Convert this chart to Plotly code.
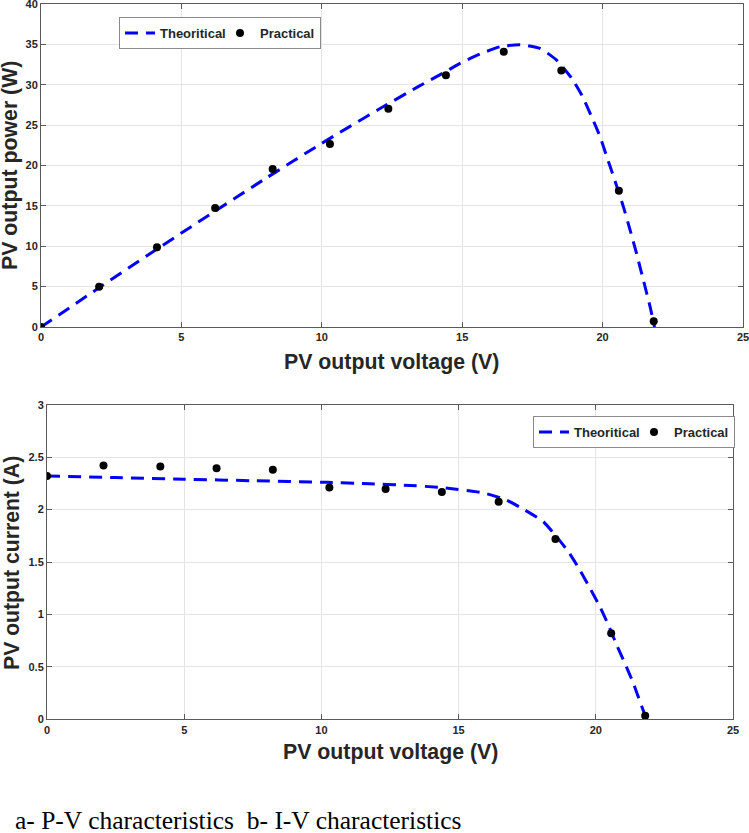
import plotly.graph_objects as go

# ---------- data ----------
# P-V characteristic
pv_theo_v = [0, 2, 4, 6, 8, 10, 12, 13.4, 14.4, 14.92, 15.63, 16.35, 17.06, 17.77, 18.36, 18.9, 19.26,
             19.61, 19.91, 20.15, 20.41, 20.74, 20.98, 21.21, 21.45, 21.69, 21.85]
pv_theo_p = [0, 4.7, 9.35, 13.9, 18.4, 22.75, 26.9, 29.7, 31.6, 32.65, 33.8, 34.71, 34.96, 34.5, 33.06, 30.8, 28.7,
             26.04, 23.57, 21.09, 18.41, 14.9, 12.0, 9.1, 5.82, 2.52, 0]
pv_prac_v = [0, 2.07, 4.13, 6.2, 8.25, 10.29, 12.37, 14.42, 16.48, 18.53, 20.58, 21.82]
pv_prac_p = [0, 4.99, 9.87, 14.74, 19.57, 22.66, 27.04, 31.17, 34.1, 31.78, 16.88, 0.7]

# I-V characteristic
iv_theo_v = [0, 2.5, 5, 7.5, 10.2, 11.77, 13.0, 14.38, 15.9, 16.75, 17.42, 18.09, 18.51, 19.0, 19.42,
             19.79, 20.15, 20.46, 20.76, 21.06, 21.37, 21.61, 21.79, 21.82]
iv_theo_i = [2.32, 2.305, 2.29, 2.275, 2.26, 2.245, 2.233, 2.21, 2.16, 2.09, 1.995, 1.884, 1.76, 1.598, 1.423,
             1.249, 1.073, 0.899, 0.708, 0.534, 0.343, 0.168, 0.04, 0]
iv_prac_v = [0, 2.06, 4.13, 6.18, 8.23, 10.29, 12.34, 14.39, 16.46, 18.53, 20.56, 21.8]
iv_prac_i = [2.32, 2.42, 2.41, 2.395, 2.38, 2.21, 2.195, 2.167, 2.075, 1.72, 0.82, 0.035]

x_ticks = [0, 5, 10, 15, 20, 25]
p_ticks = [0, 5, 10, 15, 20, 25, 30, 35, 40]
i_ticks = [0, 0.5, 1, 1.5, 2, 2.5, 3]
i_tick_labels = ["0", "0.5", "1", "1.5", "2", "2.5", "3"]

x_title = "PV output voltage (V)"
p_title = "PV output power (W)"
i_title = "PV output current (A)"
caption = "a- P-V characteristics  b- I-V characteristics"

# ---------- figure ----------
W, H = 749, 833
BLUE = "#0000FF"
AXC = "#5a5a5a"
GRID = "#e4e4e4"
TXT = "#262626"
FONT = "Liberation Sans"

line_style = dict(color=BLUE, width=3, dash="13px,8px")
marker_style = dict(color="black", size=8, symbol="circle")

fig = go.Figure()
fig.add_trace(go.Scatter(x=pv_theo_v, y=pv_theo_p, mode="lines", name="Theoritical",
                         line=dict(**line_style, shape="spline", smoothing=0.5),
                         xaxis="x", yaxis="y", legend="legend"))
fig.add_trace(go.Scatter(x=pv_prac_v, y=pv_prac_p, mode="markers", name="Practical",
                         marker=marker_style, xaxis="x", yaxis="y", legend="legend"))
fig.add_trace(go.Scatter(x=iv_theo_v, y=iv_theo_i, mode="lines", name="Theoritical",
                         line=dict(**line_style, shape="spline", smoothing=0.5),
                         xaxis="x2", yaxis="y2", legend="legend2"))
fig.add_trace(go.Scatter(x=iv_prac_v, y=iv_prac_i, mode="markers", name="Practical",
                         marker=marker_style, xaxis="x2", yaxis="y2", legend="legend2"))

tickfont = dict(family=FONT, size=11, color=TXT, weight="bold")

def axis_common():
    return dict(showline=True, linecolor=AXC, linewidth=1, mirror="ticks",
                ticks="inside", ticklen=5, tickcolor=AXC,
                showgrid=True, gridcolor=GRID, gridwidth=1,
                zeroline=False, tickfont=tickfont, automargin=False,
                ticklabeloverflow="allow")

top_x = [41 / W, 743 / W]
top_y = [1 - 327 / H, 1 - 4 / H]
bot_x = [47 / W, 733 / W]
bot_y = [1 - 719.3 / H, 1 - 404.7 / H]

def px_x(px):
    return px / W

def px_y(py):
    return 1 - py / H

def title_ann(text, cx, cy, size, angle=0):
    return dict(text=text, xref="paper", yref="paper", x=px_x(cx), y=px_y(cy),
                xanchor="center", yanchor="middle", showarrow=False, textangle=angle,
                font=dict(family=FONT, size=size, color=TXT, weight="bold"))

legend_common = dict(orientation="h", xanchor="left", yanchor="top",
                     bgcolor="white", bordercolor="#8a8a8a", borderwidth=1,
                     font=dict(family=FONT, size=13, color=TXT, weight="bold"),
                     itemwidth=30, tracegroupgap=0,
                     entrywidth=55, entrywidthmode="pixels")

fig.update_layout(
    width=W, height=H,
    margin=dict(l=0, r=0, t=0, b=0),
    paper_bgcolor="white", plot_bgcolor="white",
    showlegend=True,
    xaxis=dict(**axis_common(), domain=top_x, anchor="y", range=[0, 25], tickvals=x_ticks),
    yaxis=dict(**axis_common(), domain=top_y, anchor="x", range=[0, 40], tickvals=p_ticks),
    xaxis2=dict(**axis_common(), domain=bot_x, anchor="y2", range=[0, 25], tickvals=x_ticks),
    yaxis2=dict(**axis_common(), domain=bot_y, anchor="x2", range=[0, 3],
                tickvals=i_ticks, ticktext=i_tick_labels),
    legend=dict(**legend_common, x=px_x(119), y=px_y(17)),
    legend2=dict(**legend_common, x=px_x(533), y=px_y(416)),
    annotations=[
        title_ann(x_title, 392, 362, 21.3),
        title_ann(p_title, 10, 166, 21.3, -90),
        title_ann(x_title, 390, 752, 21.3),
        title_ann(i_title, 12, 563, 21.2, -90),
        dict(text=caption, xref="paper", yref="paper",
             x=px_x(13), y=px_y(820), xanchor="left", yanchor="middle",
             showarrow=False,
             font=dict(family="Liberation Serif", size=25.5, color="black")),
    ],
)

fig.write_html("out.html",
               config={"displayModeBar": False},
               post_script="document.body.style.margin='0';document.body.style.padding='0';")
